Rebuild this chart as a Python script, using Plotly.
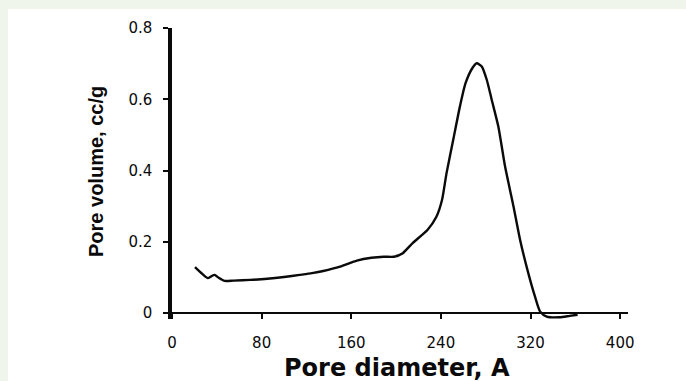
import plotly.graph_objects as go

# Pore size distribution curve
pore_diameter = [20.5, 27, 32, 35, 38, 42, 47, 55, 70, 85, 100, 114, 125, 135, 150, 165, 178, 189,
                 198, 206, 215, 228, 236, 241, 245, 251, 257, 262, 268, 272, 276.5, 281, 285.4,
                 291.3, 297.3, 304.8, 310.7, 318, 324, 328.6, 334.5, 346, 355, 362]
pore_volume = [0.129, 0.11, 0.098, 0.103, 0.107, 0.098, 0.09, 0.091, 0.093, 0.096, 0.101, 0.107, 0.112,
               0.118, 0.13, 0.147, 0.155, 0.158, 0.158, 0.168, 0.197, 0.233, 0.27, 0.317, 0.392,
               0.486, 0.58, 0.645, 0.687, 0.701, 0.692, 0.654, 0.598, 0.523, 0.411, 0.299, 0.205,
               0.112, 0.046, 0.004, -0.01, -0.012, -0.008, -0.005]

x_ticks = [0, 80, 160, 240, 320, 400]
x_tick_labels = ["0", "80", "160", "240", "320", "400"]
y_ticks = [0, 0.2, 0.4, 0.6, 0.8]
y_tick_labels = ["0", "0.2", "0.4", "0.6", "0.8"]

W, H = 686, 381
below = 6  # pixels of plot area below y=0 (for the small negative dip)
ML, MR, MT = 172, 58, 28
MB = 68 - below
pw = W - ML - MR
ph = H - MT - MB
ymax = 0.8
ymin = -ymax * below / (ph - below)
x_axis_pos = below / ph  # paper position of y=0

def px_to_paper_x(px):
    return (px - ML) / pw

def px_to_paper_y(py):
    return ((H - MB) - py) / ph

fig = go.Figure()
fig.add_trace(go.Scatter(
    x=pore_diameter, y=pore_volume, mode="lines",
    line=dict(color="#0a0a0a", width=2.4, shape="spline", smoothing=0.6),
    showlegend=False, hoverinfo="skip"))

tickfont = dict(family="DejaVu Sans", size=15, color="#0a0a0a")

fig.update_layout(
    width=W, height=H,
    margin=dict(l=ML, r=MR, t=MT, b=MB, autoexpand=False),
    paper_bgcolor="#eff5ea",
    plot_bgcolor="rgba(0,0,0,0)",
    showlegend=False,
    xaxis=dict(range=[0, 407], anchor="free", position=x_axis_pos,
               showgrid=False, zeroline=False,
               showline=True, linecolor="#0a0a0a", linewidth=2,
               ticks="outside", ticklen=5, tickwidth=2, tickcolor="#0a0a0a",
               tickvals=x_ticks, ticktext=x_tick_labels, tickfont=tickfont,
               ticklabelstandoff=11),
    xaxis2=dict(range=[0, 407], overlaying="x", anchor="free", position=x_axis_pos,
                showgrid=False, zeroline=False,
                showline=False, ticks="inside", ticklen=5, tickwidth=2, tickcolor="#0a0a0a",
                tickvals=x_ticks, showticklabels=False),
    yaxis=dict(range=[ymin, ymax], anchor="x", showgrid=False, zeroline=False,
               showline=True, linecolor="#0a0a0a", linewidth=3.5,
               ticks="outside", ticklen=5, tickwidth=2, tickcolor="#0a0a0a",
               tickvals=y_ticks, ticktext=y_tick_labels, tickfont=tickfont,
               ticklabelstandoff=8),
    yaxis2=dict(range=[ymin, ymax], overlaying="y", anchor="x", showgrid=False, zeroline=False,
                showline=False, ticks="inside", ticklen=8, tickwidth=2, tickcolor="#0a0a0a",
                tickvals=y_ticks, showticklabels=False),
    shapes=[dict(type="rect", xref="paper", yref="paper", layer="below",
                 x0=px_to_paper_x(8), x1=px_to_paper_x(W + 5),
                 y0=px_to_paper_y(H + 5), y1=px_to_paper_y(9),
                 fillcolor="white", line=dict(width=0))],
    annotations=[
        dict(text="<b>Pore diameter, A</b>", xref="paper", yref="paper",
             x=px_to_paper_x(397), y=px_to_paper_y(368), xanchor="center", yanchor="middle",
             showarrow=False, font=dict(family="DejaVu Sans", size=24, color="#0a0a0a")),
        dict(text="<b>Pore volume, cc/g</b>", xref="paper", yref="paper",
             x=px_to_paper_x(96), y=px_to_paper_y(172), xanchor="center", yanchor="middle",
             textangle=-90, showarrow=False,
             font=dict(family="Liberation Sans", size=20, color="#0a0a0a")),
    ],
)

fig.write_html("out.html", config={"displayModeBar": False},
               post_script="document.body.style.margin='0px';document.body.style.padding='0px';")
